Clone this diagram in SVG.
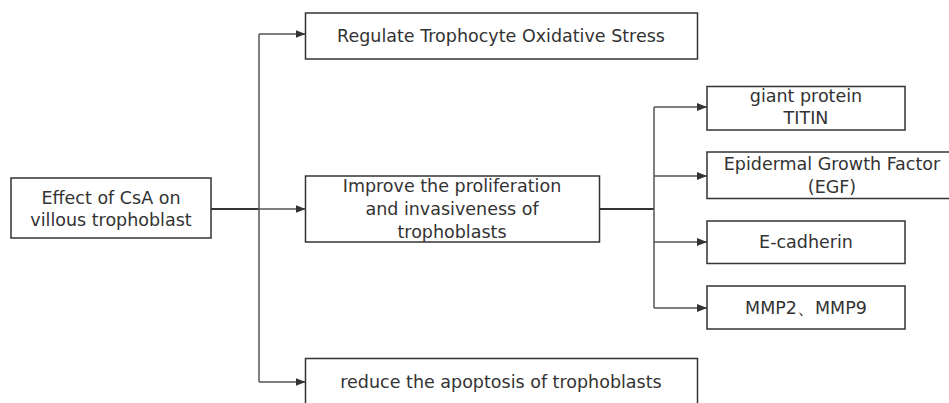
<svg xmlns="http://www.w3.org/2000/svg" width="949" height="403" viewBox="0 0 949 403">
<defs>
<marker id="ah" viewBox="0 0 10 8" refX="10" refY="4" markerWidth="10" markerHeight="8" markerUnits="userSpaceOnUse" orient="auto">
<path d="M0,0 L10,4 L0,8 Z" fill="#333"/>
</marker>
<style>
.box{fill:#fff;stroke:#333;stroke-width:1.5}
.t{font-family:"DejaVu Sans","Noto Sans",sans-serif;font-size:17.5px;fill:#333;text-anchor:middle;dominant-baseline:central}
.c{fill:none;stroke:#555;stroke-width:1.5}
.ca{fill:none;stroke:#555;stroke-width:1.5;marker-end:url(#ah)}
.thick{fill:none;stroke:#333;stroke-width:2}
</style>
</defs>
<rect width="949" height="403" fill="#fff"/>
<g id="connectors">
<path class="thick" d="M211,209 H259"/>
<path class="c" d="M259,34 V382"/>
<path class="ca" d="M259,34 H305.5"/>
<path class="ca" d="M259,209 H305.5"/>
<path class="ca" d="M259,382 H305.5"/>
<path class="thick" d="M599,209 H654"/>
<path class="c" d="M654,107 V308"/>
<path class="ca" d="M654,107 H707"/>
<path class="ca" d="M654,176 H707"/>
<path class="ca" d="M654,242 H707"/>
<path class="ca" d="M654,308 H707"/>
</g>
<g id="root">
<rect class="box" x="11" y="178" width="200" height="60"/>
<text class="t" x="111" y="198">Effect of CsA on</text>
<text class="t" x="111" y="220">villous trophoblast</text>
</g>
<g id="n-oxidative">
<rect class="box" x="305.5" y="13" width="392" height="46"/>
<text class="t" x="501" y="36">Regulate Trophocyte Oxidative Stress</text>
</g>
<g id="n-proliferation">
<rect class="box" x="305.5" y="176" width="294" height="66"/>
<text class="t" x="452" y="186">Improve the proliferation</text>
<text class="t" x="452" y="209">and invasiveness of</text>
<text class="t" x="452" y="232">trophoblasts</text>
</g>
<g id="n-apoptosis">
<rect class="box" x="305.5" y="358.5" width="392" height="60"/>
<text class="t" x="501" y="382">reduce the apoptosis of trophoblasts</text>
</g>
<g id="n-titin">
<rect class="box" x="707" y="86.5" width="198" height="43.5"/>
<text class="t" x="806" y="96">giant protein</text>
<text class="t" x="806" y="118">TITIN</text>
</g>
<g id="n-egf">
<rect class="box" x="707" y="152" width="260" height="46.5"/>
<text class="t" x="832" y="164">Epidermal Growth Factor</text>
<text class="t" x="832" y="187">(EGF)</text>
</g>
<g id="n-ecad">
<rect class="box" x="707" y="221" width="198" height="42.5"/>
<text class="t" x="806" y="242">E-cadherin</text>
</g>
<g id="n-mmp">
<rect class="box" x="707" y="286" width="198" height="43"/>
<text class="t" x="806" y="308">MMP2、MMP9</text>
</g>
</svg>
